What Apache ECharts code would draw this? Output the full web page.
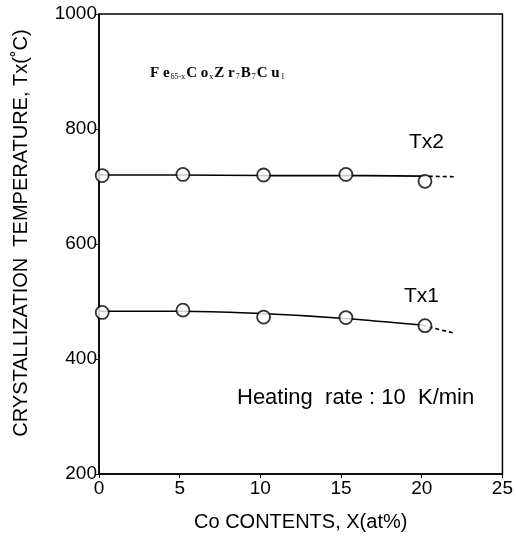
<!DOCTYPE html>
<html>
<head>
<meta charset="utf-8">
<script src="https://cdn.jsdelivr.net/npm/echarts@6/dist/echarts.min.js"></script>
<style>html,body{margin:0;padding:0;background:#fff;}#c{width:516px;height:537px;}</style>
</head>
<body>
<div id="c"></div>
<script>
// ---- data ----
const coContent = [0.2, 5.2, 10.2, 15.3, 20.2];
const tx2Values = [719, 721, 720, 721, 709];
const tx1Values = [481, 485, 473, 472, 458];
// hand-drawn fit curves (solid part) and dashed extrapolation
const fitX = [0, 5, 10, 15, 20];
const tx2Fit = [720, 720, 719, 719, 718];
const tx1Fit = [483, 483, 479, 471, 459];
const extX = [20, 22];
const tx2Ext = [718, 717];
const tx1Ext = [459, 445];
const xTicks = [0, 5, 10, 15, 20, 25];
const yTicks = [200, 400, 600, 800, 1000];

const zip = (a, b) => a.map((v, i) => [v, b[i]]);
const FONT = '"Liberation Sans", Arial, sans-serif';

const chart = echarts.init(document.getElementById('c'), null, {renderer: 'canvas'});
const lineStyle = {color: '#000', width: 1.6};
const pointSeries = (name, vals) => ({
  name, type: 'scatter', data: zip(coContent, vals), symbol: 'circle', symbolSize: 13,
  itemStyle: {color: '#fff', borderColor: '#000', borderWidth: 1.8}, z: 5
});
const fitSeries = (vals) => ({
  type: 'line', data: zip(fitX, vals), smooth: 0.4, showSymbol: false, symbol: 'none',
  lineStyle: lineStyle, z: 3, silent: true
});
const extSeries = (vals) => ({
  type: 'line', data: zip(extX, vals), showSymbol: false, symbol: 'none',
  lineStyle: {color: '#000', width: 1.6, type: [4, 3]}, z: 3, silent: true
});

chart.setOption({
  animation: false,
  backgroundColor: '#fff',
  grid: {left: 99, right: 11, top: 14, bottom: 59, show: true, borderColor: '#000', borderWidth: 1.5, backgroundColor: 'transparent'},
  xAxis: {
    type: 'value', min: xTicks[0], max: xTicks[xTicks.length - 1], interval: 5,
    name: 'Co CONTENTS, X(at%)', nameLocation: 'middle', nameGap: 38,
    nameTextStyle: {fontFamily: FONT, fontSize: 20, color: '#000'},
    axisLine: {lineStyle: {color: '#000', width: 1.5}},
    axisTick: {show: true, inside: false, length: 4, lineStyle: {color: '#000'}},
    axisLabel: {fontFamily: FONT, fontSize: 19, color: '#000', margin: 5},
    splitLine: {show: false}
  },
  yAxis: {
    type: 'value', min: yTicks[0], max: yTicks[yTicks.length - 1], interval: 200,
    axisLine: {lineStyle: {color: '#000', width: 1.5}},
    axisTick: {show: true, inside: false, length: 3, lineStyle: {color: '#000'}},
    axisLabel: {fontFamily: FONT, fontSize: 19, color: '#000', margin: 2, formatter: v => String(v)},
    splitLine: {show: false}
  },
  series: [
    fitSeries(tx2Fit), extSeries(tx2Ext), pointSeries('Tx2', tx2Values),
    fitSeries(tx1Fit), extSeries(tx1Ext), pointSeries('Tx1', tx1Values)
  ],
  graphic: [
    {type: 'text', x: 21, y: 233, rotation: Math.PI / 2,
      style: {text: 'CRYSTALLIZATION  TEMPERATURE, Tx(\u02DAC)', font: '20px ' + FONT, fill: '#000', align: 'center', verticalAlign: 'middle'}},
    {type: 'text', left: 409, top: 132, style: {text: 'Tx2', font: '21px ' + FONT, fill: '#000'}},
    {type: 'text', left: 404, top: 286, style: {text: 'Tx1', font: '21px ' + FONT, fill: '#000'}},
    {type: 'text', left: 237, top: 387, style: {text: 'Heating  rate : 10  K/min', font: '22px ' + FONT, fill: '#000'}},
    {type: 'text', left: 150, top: 66, style: {
      text: '{m|F e}{s|65-x}{m|C o}{s|x}{m|Z r}{s|7}{m|B}{s|7}{m|C u}{s|1}',
      rich: {
        m: {fontFamily: '"Liberation Serif", serif', fontSize: 15, fontWeight: 'bold', fill: '#000', verticalAlign: 'bottom', padding: [0, 1, 0, 0]},
        s: {fontFamily: '"Liberation Serif", serif', fontSize: 8, fill: '#000', verticalAlign: 'bottom', padding: [0, 1, 0, 0]}
      }
    }}
  ]
});
</script>
</body>
</html>
